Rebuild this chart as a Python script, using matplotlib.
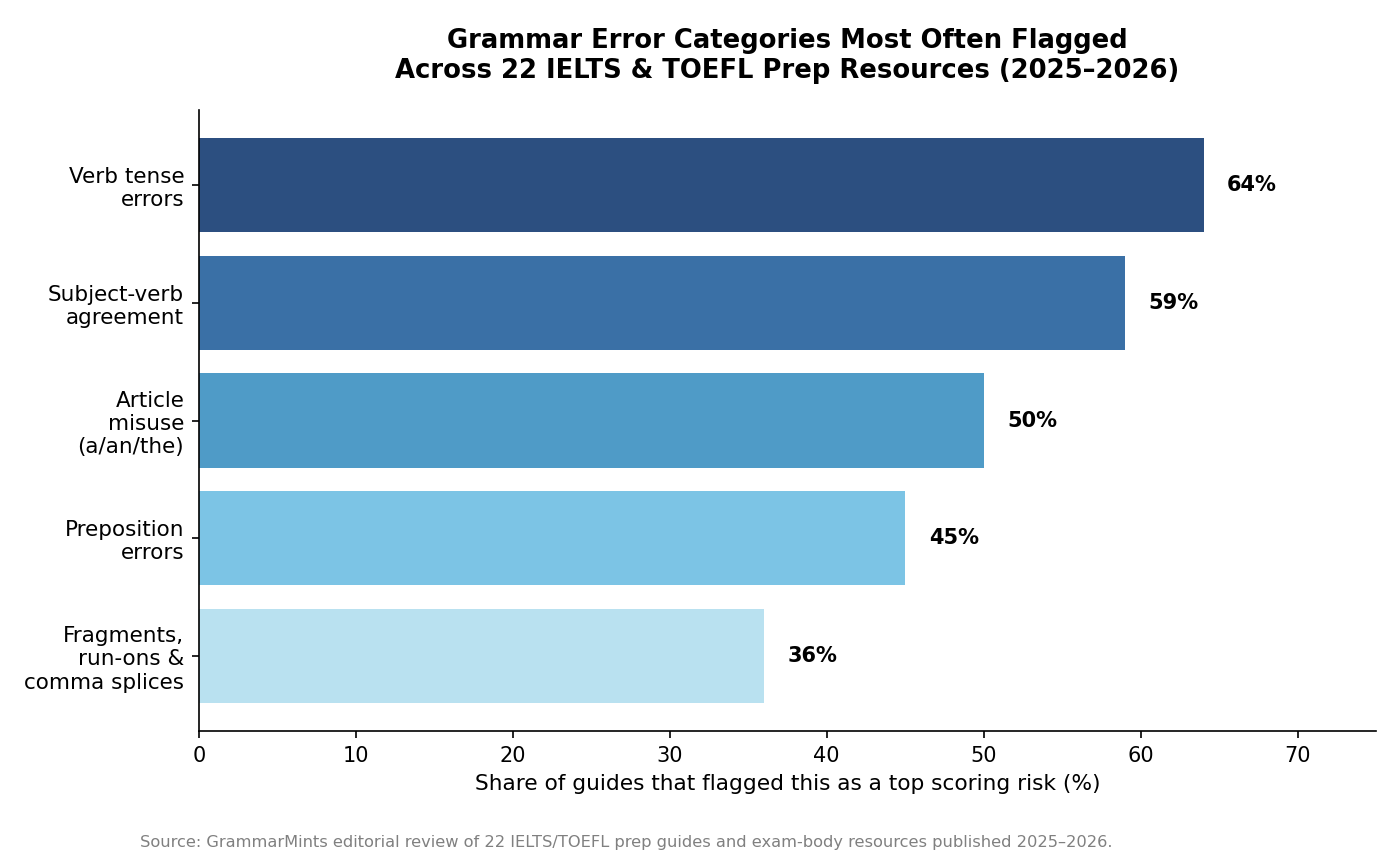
import matplotlib.pyplot as plt
import numpy as np

categories = [
    "Verb tense\nerrors",
    "Subject-verb\nagreement",
    "Article\nmisuse\n(a/an/the)",
    "Preposition\nerrors",
    "Fragments,\nrun-ons &\ncomma splices",
]
shares = [64, 59, 50, 45, 36]
bar_colors = ["#2c4f80", "#3a70a6", "#4f9bc7", "#7cc4e5", "#b9e1f0"]
x_ticks = [0, 10, 20, 30, 40, 50, 60, 70]

title = ("Grammar Error Categories Most Often Flagged\n"
         "Across 22 IELTS & TOEFL Prep Resources (2025\u20132026)")
xlabel = "Share of guides that flagged this as a top scoring risk (%)"
source = ("Source: GrammarMints editorial review of 22 IELTS/TOEFL prep guides "
          "and exam-body resources published 2025\u20132026.")

fig = plt.figure(figsize=(14 / 1.5, 8.56 / 1.5), dpi=150)
ax = fig.add_axes([0.142, 0.146, 0.841, 0.7255])

y = np.arange(len(categories))
ax.barh(y, shares, height=0.8, color=bar_colors)
ax.invert_yaxis()

for yi, v in zip(y, shares):
    ax.text(v + 1.5, yi, f"{v}%", ha="left", va="center",
            fontsize=10, fontweight="bold")

ax.set_yticks(y)
ax.set_yticklabels(categories, fontsize=10.3)
ax.set_xticks(x_ticks)
ax.tick_params(axis="x", labelsize=10)
ax.set_xlim(0, 75)
ax.set_xlabel(xlabel, fontsize=10.4)
ax.set_title(title, fontsize=12.4, fontweight="bold", pad=15.5)

ax.spines["top"].set_visible(False)
ax.spines["right"].set_visible(False)

fig.text(0.1, 0.016, source, fontsize=7.8, color="#808080", ha="left", va="center")

fig.savefig("out.png", dpi=150)
